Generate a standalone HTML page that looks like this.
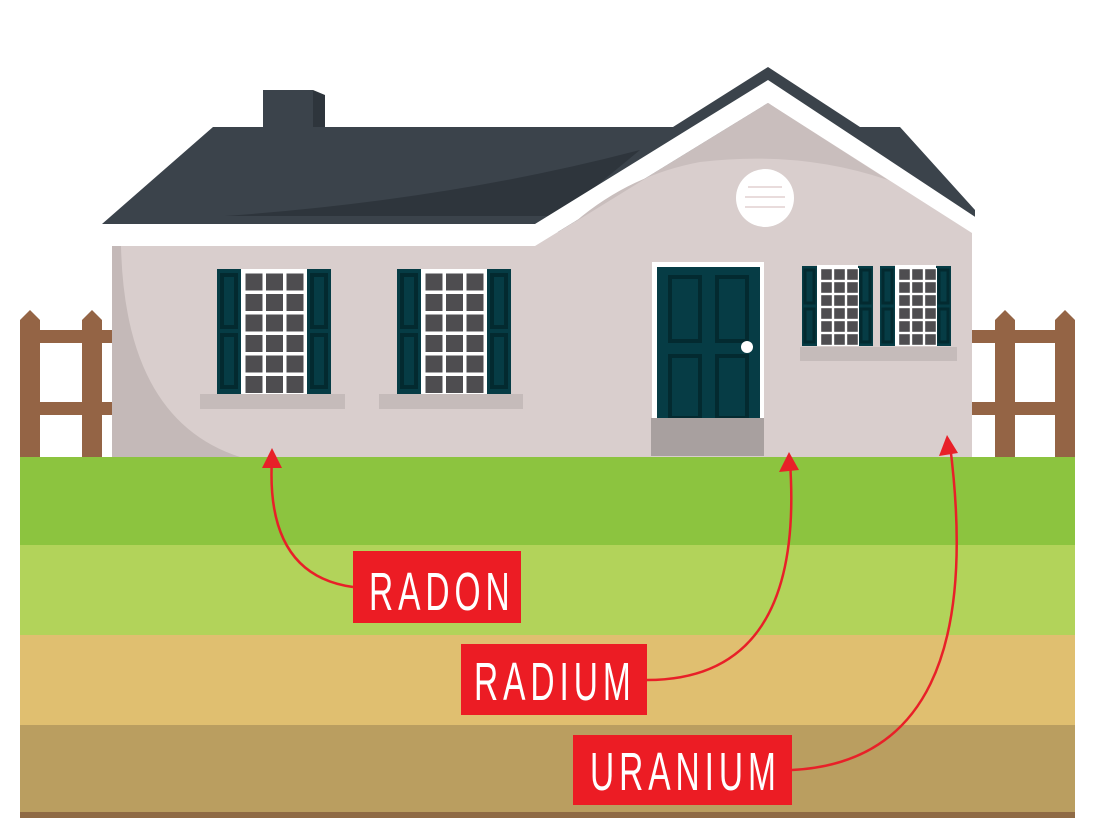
<!DOCTYPE html>
<html><head><meta charset="utf-8"><style>html,body{margin:0;padding:0;background:#fff}svg{display:block}</style></head>
<body>
<svg width="1096" height="818" viewBox="0 0 1096 818" xmlns="http://www.w3.org/2000/svg">
<defs>
<g id="shut"><rect x="0" y="0" width="24" height="125" fill="#063c45"/><rect x="5" y="6" width="14" height="52" fill="none" stroke="#032a30" stroke-width="4"/><rect x="5" y="66" width="14" height="52" fill="none" stroke="#032a30" stroke-width="4"/></g>
<g id="shut2"><rect x="0" y="0" width="15" height="80" fill="#063c45"/><rect x="3" y="4" width="9" height="33" fill="none" stroke="#032a30" stroke-width="3"/><rect x="3" y="43" width="9" height="33" fill="none" stroke="#032a30" stroke-width="3"/></g>
<pattern id="paneA" x="244" y="272" width="20.5" height="20.5" patternUnits="userSpaceOnUse"><rect width="20.5" height="20.5" fill="#fff"/><rect x="1.5" y="1.5" width="17" height="17" fill="#4e4d50"/></pattern>
<pattern id="paneB" x="424" y="272" width="20.5" height="20.5" patternUnits="userSpaceOnUse"><rect width="20.5" height="20.5" fill="#fff"/><rect x="1.5" y="1.5" width="17" height="17" fill="#4e4d50"/></pattern>
<pattern id="paneC" x="820" y="268" width="13" height="13" patternUnits="userSpaceOnUse"><rect width="13" height="13" fill="#fff"/><rect x="1.2" y="1.2" width="10.6" height="10.6" fill="#4e4d50"/></pattern>
<pattern id="paneD" x="898" y="268" width="13" height="13" patternUnits="userSpaceOnUse"><rect width="13" height="13" fill="#fff"/><rect x="1.2" y="1.2" width="10.6" height="10.6" fill="#4e4d50"/></pattern>
</defs>
<rect x="20" y="457" width="1055" height="88" fill="#8cc43f"/>
<rect x="20" y="545" width="1055" height="90" fill="#b2d35a"/>
<rect x="20" y="635" width="1055" height="90" fill="#e0bf70"/>
<rect x="20" y="725" width="1055" height="88" fill="#ba9e60"/>
<rect x="20" y="812" width="1055" height="6" fill="#8f6a45"/>
<g fill="#946445">
<polygon points="20,320 30,310 40,320 40,457 20,457"/>
<polygon points="82,320 92,310 102,320 102,457 82,457"/>
<rect x="20" y="330" width="92" height="13"/><rect x="20" y="402" width="92" height="13"/>
<polygon points="995,320 1005,310 1015,320 1015,457 995,457"/>
<polygon points="1055,320 1065,310 1075,320 1075,457 1055,457"/>
<rect x="972" y="330" width="103" height="13"/><rect x="972" y="402" width="103" height="13"/>
</g>
<rect x="263" y="90" width="50" height="40" fill="#3b434b"/>
<polygon points="313,90 325,95 325,130 313,130" fill="#2e353c"/>
<polygon points="102,224 213,127 673,127 768,67 860,127 900,127 975,210 975,232 102,232" fill="#3b434b"/>
<path d="M225,216 Q450,200 640,150 L560,216 Z" fill="#2e353c"/>
<polygon points="92,234 102,224 535,224 768,80 998,232 972,240 768,103 535,246 92,246" fill="#fff"/>
<polygon points="112,246 535,246 768,103 972,233 972,457 112,457" fill="#d9cecd"/>
<path d="M575,222 L768,103 L888,180 Q800,150 700,162 Q630,175 575,222 Z" fill="#c9bebd"/>
<path d="M112,246 L121,246 Q125,420 240,457 L112,457 Z" fill="#c4b9b8"/>
<circle cx="765" cy="198" r="29" fill="#fff"/>
<g stroke="#dcc8c6" stroke-width="1.2"><line x1="748" y1="187" x2="782" y2="187"/><line x1="745" y1="197" x2="785" y2="197"/><line x1="745" y1="207" x2="785" y2="207"/></g>
<use href="#shut" x="217" y="269"/><use href="#shut" x="307" y="269"/>
<rect x="241" y="269" width="66" height="125" fill="#fff"/>
<rect x="244" y="272" width="61.5" height="123" fill="url(#paneA)"/>
<rect x="200" y="394" width="145" height="15" fill="#c5bbba"/>
<use href="#shut" x="397" y="269"/><use href="#shut" x="487" y="269"/>
<rect x="421" y="269" width="66" height="125" fill="#fff"/>
<rect x="424" y="272" width="61.5" height="123" fill="url(#paneB)"/>
<rect x="379" y="394" width="144" height="15" fill="#c5bbba"/>
<rect x="652" y="262" width="112" height="156" fill="#fff"/>
<rect x="657" y="267" width="103" height="151" fill="#063c45"/>
<g fill="none" stroke="#032a30" stroke-width="4"><rect x="670" y="277" width="30" height="64"/><rect x="717" y="277" width="30" height="64"/><rect x="670" y="356" width="30" height="62"/><rect x="717" y="356" width="30" height="62"/></g>
<circle cx="747" cy="347" r="6" fill="#fff"/>
<rect x="651" y="418" width="113" height="38" fill="#a8a09f"/>
<use href="#shut2" x="802" y="266"/><use href="#shut2" x="858" y="266"/>
<use href="#shut2" x="880" y="266"/><use href="#shut2" x="936" y="266"/>
<rect x="817" y="265" width="41" height="81" fill="#fff"/>
<rect x="820" y="268" width="39" height="78" fill="url(#paneC)"/>
<rect x="895" y="265" width="41" height="81" fill="#fff"/>
<rect x="898" y="268" width="39" height="78" fill="url(#paneD)"/>
<rect x="800" y="347" width="157" height="14" fill="#c5bbba"/>
<g fill="none" stroke="#e82028" stroke-width="2.5">
<path d="M353,587 Q265,575 272,458"/>
<path d="M647,680 Q805,680 790,462"/>
<path d="M792,770 Q990,760 950,445"/>
</g>
<g fill="#e82028">
<polygon points="272,448 262,468 282,468"/>
<polygon points="789,452 779,472 799,470"/>
<polygon points="947,435 939,456 958,453"/>
</g>
<rect x="353" y="551" width="168" height="72" fill="#ec1c24"/>
<rect x="461" y="644" width="186" height="71" fill="#ec1c24"/>
<rect x="573" y="735" width="219" height="70" fill="#ec1c24"/>
<g fill="#fff" font-family="'Liberation Sans',sans-serif" font-size="54" letter-spacing="8">
<text x="0" y="610" transform="translate(369,0) scale(0.62,1)">RADON</text>
<text x="0" y="700" transform="translate(474,0) scale(0.62,1)">RADIUM</text>
<text x="0" y="790" transform="translate(590,0) scale(0.62,1)">URANIUM</text>
</g>
</svg>
</body></html>
